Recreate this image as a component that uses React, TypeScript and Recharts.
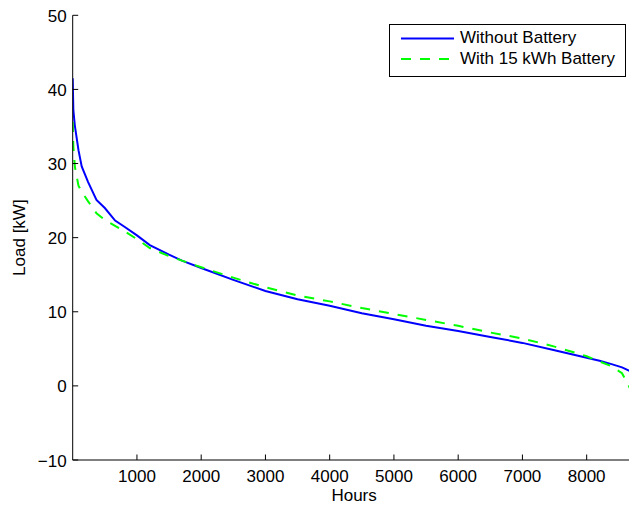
import React from 'react';
import { LineChart, Line, XAxis, YAxis, Legend, Label } from 'recharts';

const hours = [0, 10, 35, 90, 140, 240, 370, 500, 660, 800, 1000, 1200, 1500, 1700, 2000, 2500, 3000, 3500, 4000, 4500, 5000, 5500, 6000, 6500, 7000, 7500, 8000, 8200, 8400, 8550, 8650, 8760];
const withoutBattery = [41.5, 37.2, 35.0, 31.8, 29.6, 27.5, 25.1, 24.0, 22.3, 21.5, 20.3, 19.0, 17.7, 16.9, 15.9, 14.3, 12.8, 11.7, 10.8, 9.8, 9.0, 8.1, 7.4, 6.6, 5.8, 4.8, 3.8, 3.4, 2.9, 2.5, 2.1, 1.5];
const withBattery = [35.6, 32.3, 29.5, 27.0, 26.2, 24.9, 23.3, 22.4, 21.6, 20.9, 19.8, 18.6, 17.5, 16.9, 16.0, 14.6, 13.3, 12.2, 11.4, 10.5, 9.7, 8.9, 8.1, 7.2, 6.4, 5.3, 4.0, 3.3, 2.6, 1.7, 0.1, -2.0];
const xTicks = [1000, 2000, 3000, 4000, 5000, 6000, 7000, 8000];
const yTicks = [-10, 0, 10, 20, 30, 40, 50];
const seriesNames = ['Without Battery', 'With 15 kWh Battery'];

const data = hours.map((h, i) => ({ h, a: withoutBattery[i], b: withBattery[i] }));

const FONT = '"Liberation Sans", Arial, Helvetica, sans-serif';
const FS = 17;
const TICK = 5.5;

const fmt = (v: number) => (v < 0 ? '\u2212' + Math.abs(v) : String(v));

const LeftTick = (props: any) => {
  const { x, y, payload } = props;
  return (
    <g>
      <line x1={x + 6} y1={y} x2={x + 6 + TICK} y2={y} stroke="#000" strokeWidth={1} />
      <text x={x} y={y + 6.5} textAnchor="end" fontFamily={FONT} fontSize={FS} fill="#000">{fmt(payload.value)}</text>
    </g>
  );
};

const RightTick = (props: any) => {
  const { x, y } = props;
  return <line x1={x} y1={y} x2={x - TICK} y2={y} stroke="#000" strokeWidth={1} />;
};

const BottomTick = (props: any) => {
  const { x, y, payload } = props;
  return (
    <g>
      <line x1={x} y1={y} x2={x} y2={y - TICK} stroke="#000" strokeWidth={1} />
      <text x={x} y={y + 21.7} textAnchor="middle" fontFamily={FONT} fontSize={FS} fill="#000">{fmt(payload.value)}</text>
    </g>
  );
};

const TopTick = (props: any) => {
  const { x, y } = props;
  return <line x1={x} y1={y} x2={x} y2={y + TICK} stroke="#000" strokeWidth={1} />;
};

const LegendBox = () => (
  <div
    style={{
      position: 'relative',
      width: 237,
      height: 53,
      border: '1px solid #000',
      boxSizing: 'border-box',
      background: '#fff',
      fontFamily: FONT,
      fontSize: FS,
      color: '#000',
    }}
  >
    <svg width={70} height={53} style={{ position: 'absolute', left: 0, top: 0 }}>
      <line x1={11} y1={13.4} x2={64} y2={13.4} stroke="#0000ff" strokeWidth={2} />
      <line x1={11} y1={34} x2={64} y2={34} stroke="#00ff00" strokeWidth={2} strokeDasharray="10 9" />
    </svg>
    <div style={{ position: 'absolute', left: 70, top: 13.4 - 11, lineHeight: '22px', whiteSpace: 'nowrap' }}>{seriesNames[0]}</div>
    <div style={{ position: 'absolute', left: 70, top: 34 - 11, lineHeight: '22px', whiteSpace: 'nowrap' }}>{seriesNames[1]}</div>
  </div>
);

export default function App() {
  return (
    <div style={{ position: 'absolute', left: 0, top: 0, width: 629, height: 505, overflow: 'hidden', background: '#fff' }}>
      <LineChart width={640} height={505} data={data} margin={{ top: 15.3, right: 4.5, bottom: 0, left: 0 }}>
        <XAxis
          dataKey="h"
          type="number"
          domain={[0, 8760]}
          ticks={xTicks}
          allowDataOverflow
          height={45}
          tickSize={0}
          tickMargin={0}
          tickLine={false}
          axisLine={{ stroke: '#000', strokeWidth: 1 }}
          tick={<BottomTick />}
          interval={0}
        >
          <Label value="Hours" position="insideBottom" offset={4.5} fontFamily={FONT} fontSize={FS} fill="#000" />
        </XAxis>
        <XAxis
          xAxisId="top"
          dataKey="h"
          type="number"
          orientation="top"
          domain={[0, 8760]}
          ticks={xTicks}
          allowDataOverflow
          height={0}
          tickSize={0}
          tickMargin={0}
          tickLine={false}
          axisLine={{ stroke: '#000', strokeWidth: 1 }}
          tick={<TopTick />}
          interval={0}
        />
        <YAxis
          type="number"
          domain={[-10, 50]}
          ticks={yTicks}
          allowDataOverflow
          width={72.7}
          tickSize={0}
          tickMargin={6}
          tickLine={false}
          axisLine={{ stroke: '#000', strokeWidth: 1 }}
          tick={<LeftTick />}
          interval={0}
          label={{
            content: (p: any) => {
              const vb = p.viewBox || {};
              const cy = (vb.y || 0) + (vb.height || 0) / 2;
              return (
                <text
                  transform={`translate(24.5, ${cy}) rotate(-90)`}
                  textAnchor="middle"
                  fontFamily={FONT}
                  fontSize={FS}
                  fill="#000"
                >
                  Load [kW]
                </text>
              );
            },
          }}
        />
        <YAxis
          yAxisId="right"
          orientation="right"
          type="number"
          domain={[-10, 50]}
          ticks={yTicks}
          width={0}
          tickSize={0}
          tickMargin={0}
          tickLine={false}
          axisLine={{ stroke: '#000', strokeWidth: 1 }}
          tick={<RightTick />}
          interval={0}
        />
        <Line type="linear" dataKey="a" name={seriesNames[0]} stroke="#0000ff" strokeWidth={2} dot={false} isAnimationActive={false} />
        <Line type="linear" dataKey="b" name={seriesNames[1]} stroke="#00ff00" strokeWidth={2} strokeDasharray="10 9" dot={false} isAnimationActive={false} />
        <Legend
          layout="horizontal"
          verticalAlign="middle"
          align="center"
          content={<LegendBox />}
          wrapperStyle={{ position: 'absolute', left: 389, top: 24, width: 237, height: 53 }}
        />
      </LineChart>
    </div>
  );
}
